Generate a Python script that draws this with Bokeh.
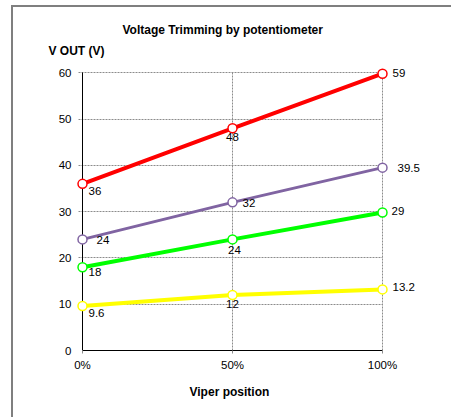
from bokeh.plotting import figure
from bokeh.models import ColumnDataSource, Range1d, FixedTicker, Title, Grid
from bokeh.core.properties import value, field
from bokeh.embed import file_html
from bokeh.resources import INLINE

# ---- data ----
positions = [0, 0.5, 1]
x_tick_labels = ["0%", "50%", "100%"]
y_ticks = [0, 10, 20, 30, 40, 50, 60]

red_values = [36, 48, 59.8]
red_labels = ["36", "48", "59"]
purple_values = [24, 32, 39.5]
purple_labels = ["24", "32", "39.5"]
green_values = [18, 24, 29.8]
green_labels = ["18", "24", "29"]
yellow_values = [9.6, 12, 13.2]
yellow_labels = ["9.6", "12", "13.2"]

title_text = "Voltage Trimming by potentiometer"
y_title = "V OUT (V)"
x_title = "Viper position"

# ---- style ----
FONT = "Liberation Sans"
series = [
    (red_values, red_labels, "#FF0000", 4,
     [(6, 7.5, "left"), (0, 8.5, "center"), (10, -1, "left")]),
    (purple_values, purple_labels, "#8064A2", 3,
     [(14, 1, "left"), (10, 0.5, "left"), (15, 0, "left")]),
    (green_values, green_labels, "#00FF00", 4,
     [(6, 5, "left"), (2, 10.5, "center"), (9, -2, "left")]),
    (yellow_values, yellow_labels, "#FFFF00", 4,
     [(6, 7, "left"), (0, 9.5, "center"), (10, -2.5, "left")]),
]

p = figure(width=440, height=412, output_backend="svg", toolbar_location=None,
           x_range=Range1d(-0.02, 1.15), y_range=Range1d(0, 62),
           min_border_left=63, min_border_right=26, min_border_top=56,
           min_border_bottom=69, title=None)
p.margin = (5, 0, 0, 11)
p.styles = {"border-left": "2px solid #7f7f7f", "border-top": "2px solid #7f7f7f"}
p.outline_line_color = None
p.background_fill_color = "white"
p.border_fill_color = "white"

xa = p.xaxis[0]
ya = p.yaxis[0]
xa.ticker = FixedTicker(ticks=positions)
xa.major_label_overrides = {pos: lab for pos, lab in zip(positions, x_tick_labels)}
xa.bounds = (positions[0], positions[-1])
ya.ticker = FixedTicker(ticks=y_ticks)
for ax in (xa, ya):
    ax.minor_tick_line_color = None
    ax.major_label_text_font = FONT
    ax.major_label_text_font_size = "11.5px"
    ax.major_label_text_color = "black"
xa.axis_line_color = "black"
xa.major_tick_line_color = "#8c8c8c"
xa.major_tick_in = 0
xa.major_tick_out = 3
xa.major_label_standoff = 5
ya.axis_line_color = None
ya.major_tick_line_color = None
ya.major_tick_in = 0
ya.major_tick_out = 0
ya.major_label_standoff = 5

p.xgrid.ticker = FixedTicker(ticks=positions)
p.ygrid.ticker = FixedTicker(ticks=y_ticks)
for g in (p.xgrid, p.ygrid):
    g.grid_line_color = "#8c8c8c"
    g.grid_line_dash = "2 1"
    g.grid_line_width = 1
p.xgrid.cross_bounds = (y_ticks[0], y_ticks[-1])
p.ygrid.cross_bounds = (-0.013, positions[-1])

# solid vertical axis line at x = 0 (from 0 to 60)
axis_line = Grid(dimension=0, ticker=FixedTicker(ticks=[positions[0]]),
                 grid_line_color="black", grid_line_width=1,
                 cross_bounds=(y_ticks[0], y_ticks[-1]))
p.add_layout(axis_line)

lab_x, lab_y, lab_t, lab_dx, lab_dy, lab_al = [], [], [], [], [], []
for vals, labs, color, lw, offs in series:
    p.line(positions, vals, line_color=color, line_width=lw)
    p.scatter(positions, vals, marker="circle", size=9, fill_color="white",
              line_color=color, line_width=1.5)
    for xv, yv, t, (dx, dy, al) in zip(positions, vals, labs, offs):
        lab_x.append(xv); lab_y.append(yv); lab_t.append(t)
        lab_dx.append(dx); lab_dy.append(dy); lab_al.append(al)

src = ColumnDataSource(dict(x=lab_x, y=lab_y, text=lab_t, dx=lab_dx, dy=lab_dy, al=lab_al))
p.text(x="x", y="y", text="text", source=src, x_offset="dx", y_offset="dy",
       text_align=field("al"), text_baseline="middle",
       text_font=value(FONT), text_font_size="11.5px", text_color="black")

p.add_layout(Title(text=y_title, align="left", offset=-28, standoff=12,
                   text_font=FONT, text_font_size="12px", text_font_style="bold",
                   text_color="black"), "above")
p.add_layout(Title(text=title_text, align="left", offset=46, standoff=-2,
                   text_font=FONT, text_font_size="12px", text_font_style="bold",
                   text_color="black"), "above")
p.add_layout(Title(text=x_title, align="left", offset=113, standoff=18,
                   text_font=FONT, text_font_size="12px", text_font_style="bold",
                   text_color="black"), "below")

open("out.html", "w").write(file_html(p, INLINE))
